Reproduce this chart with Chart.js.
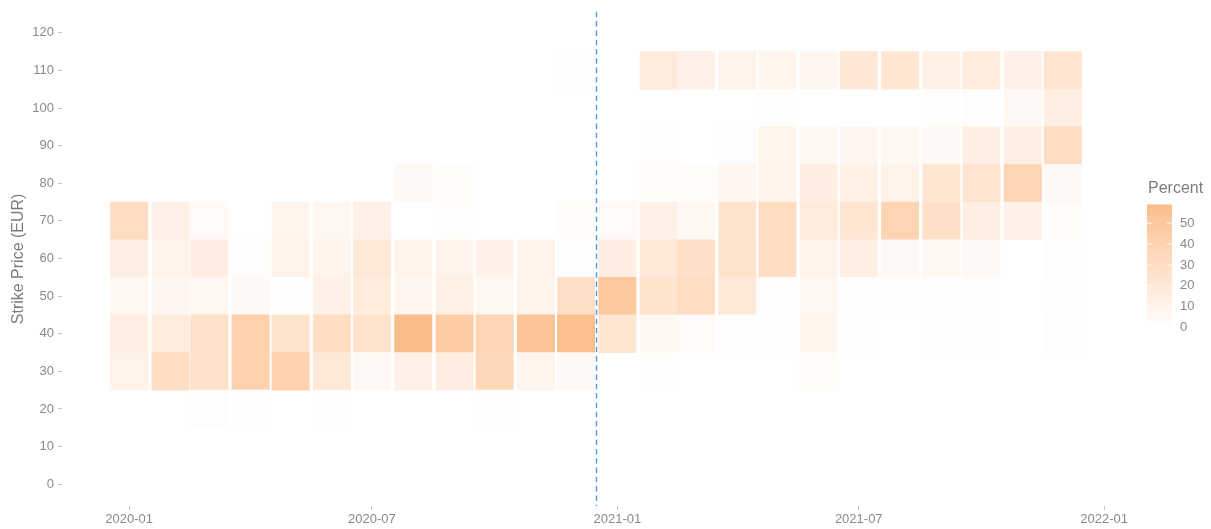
<!DOCTYPE html>
<html>
<head>
<meta charset="utf-8">
<script src="https://cdn.jsdelivr.net/npm/chart.js@4/dist/chart.umd.min.js"></script>
<style>
  html, body { margin: 0; padding: 0; background: #ffffff; }
  canvas { display: block; }
</style>
</head>
<body>
<canvas id="chart" width="1211" height="529"></canvas>
<script>
// Months on the x axis (each tile is centred on the first day of its month)
const months = [
  '2020-01','2020-02','2020-03','2020-04','2020-05','2020-06',
  '2020-07','2020-08','2020-09','2020-10','2020-11','2020-12',
  '2021-01','2021-02','2021-03','2021-04','2021-05','2021-06',
  '2021-07','2021-08','2021-09','2021-10','2021-11','2021-12'
];

// Strike price buckets (EUR), each tile covers strike ± 5
const strikes = [20, 30, 40, 50, 60, 70, 80, 90, 100, 110];

// Share of contracts (%) per month for each strike bucket; null = no contracts
const pct20  = [null,null,2,1,null,1,null,null,null,1,null,null, null,null,null,null,null,null,null,null,null,null,null,null];
const pct30  = [11,30,27,40,40,20,5,12,15,35,9,5, null,1,null,null,null,3,null,null,null,null,null,null];
const pct40  = [14,18,27,40,25,30,25,59,45,38,52,56, 22,6,4,1,1,9,1,null,1,1,null,2];
const pct50  = [7,8,7,5,1,12,17,8,13,7,11,28, 48,25,30,20,2,7,1,1,1,1,null,1];
const pct60  = [14,10,15,2,11,10,20,10,11,12,11,2, 15,20,28,25,30,11,14,5,6,5,null,2];
const pct70  = [30,12,4,null,9,7,12,null,1,null,null,3, 4,12,7,25,32,18,22,38,28,14,12,3];
const pct80  = [null,null,null,null,null,null,null,5,3,null,null,null, null,3,3,8,10,15,13,11,22,23,38,5];
const pct90  = [null,null,null,null,null,null,null,null,null,null,null,null, null,1,null,2,9,6,8,6,5,14,14,30];
const pct100 = [null,null,null,null,null,null,null,null,null,null,null,null, null,null,null,null,1,null,null,null,1,2,5,14];
const pct110 = [null,null,null,null,null,null,null,null,null,null,null,1, null,18,12,11,9,8,21,22,13,17,12,23];

const seriesByStrike = [pct20, pct30, pct40, pct50, pct60, pct70, pct80, pct90, pct100, pct110];

// Date of the vertical reference line
const markerDate = '2020-12-16';

// Axis tick labels
const xTickLabels = ['2020-01', '2020-07', '2021-01', '2021-07', '2022-01'];
const yTickValues = [0, 10, 20, 30, 40, 50, 60, 70, 80, 90, 100, 110, 120];
const legendTickValues = [0, 10, 20, 30, 40, 50];

// ---------------------------------------------------------------------------

const FONT = '"Liberation Sans", Arial, Helvetica, sans-serif';
const TEXT_GREY = '#8a8a8a';
const TITLE_GREY = '#7d7d7d';

const ORIGIN = Date.UTC(2020, 0, 1);
function dayOf(s) {
  const p = s.split('-').map(Number);
  return (Date.UTC(p[0], p[1] - 1, p[2] || 1) - ORIGIN) / 86400000;
}

// White -> orange fill, interpolated in CIE Lab
const LOW_RGB = [255, 255, 255];
const HIGH_RGB = [249, 189, 138];
function srgbToLin(c) { c /= 255; return c <= 0.04045 ? c / 12.92 : Math.pow((c + 0.055) / 1.055, 2.4); }
function linToSrgb(c) { c = c <= 0.0031308 ? 12.92 * c : 1.055 * Math.pow(c, 1 / 2.4) - 0.055; return Math.round(Math.max(0, Math.min(1, c)) * 255); }
const WP = [0.95047, 1, 1.08883];
function fLab(t) { return t > 216 / 24389 ? Math.cbrt(t) : (24389 / 27 * t + 16) / 116; }
function fInv(t) { const t3 = t * t * t; return t3 > 216 / 24389 ? t3 : (116 * t - 16) / (24389 / 27); }
function rgbToLab(rgb) {
  const [r, g, b] = rgb.map(srgbToLin);
  const x = (0.4124 * r + 0.3576 * g + 0.1805 * b) / WP[0];
  const y = (0.2126 * r + 0.7152 * g + 0.0722 * b) / WP[1];
  const z = (0.0193 * r + 0.1192 * g + 0.9505 * b) / WP[2];
  const fx = fLab(x), fy = fLab(y), fz = fLab(z);
  return [116 * fy - 16, 500 * (fx - fy), 200 * (fy - fz)];
}
function labToRgb(lab) {
  const fy = (lab[0] + 16) / 116, fx = fy + lab[1] / 500, fz = fy - lab[2] / 200;
  const x = fInv(fx) * WP[0], y = fInv(fy) * WP[1], z = fInv(fz) * WP[2];
  const r = 3.2406 * x - 1.5372 * y - 0.4986 * z;
  const g = -0.9689 * x + 1.8758 * y + 0.0415 * z;
  const b = 0.0557 * x - 0.2040 * y + 1.0570 * z;
  return [linToSrgb(r), linToSrgb(g), linToSrgb(b)];
}
const LOW_LAB = rgbToLab(LOW_RGB), HIGH_LAB = rgbToLab(HIGH_RGB);

const allValues = seriesByStrike.flat().filter(v => v != null);
const maxPct = Math.max(...allValues);

function colourFor(v) {
  const t = Math.max(0, Math.min(1, v / maxPct));
  const lab = LOW_LAB.map((l, i) => l + (HIGH_LAB[i] - l) * t);
  const c = labToRgb(lab);
  return `rgb(${c[0]},${c[1]},${c[2]})`;
}

// One floating-bar dataset per strike bucket; grouped:false keeps tiles in place
const datasets = strikes.map((s, si) => ({
  label: String(s),
  grouped: false,
  barPercentage: 1,
  categoryPercentage: 1,
  borderWidth: 0,
  borderSkipped: false,
  data: months
    .map((m, mi) => seriesByStrike[si][mi] == null ? null :
      { x: dayOf(m + '-01'), y: [s - 5, s + 5], v: seriesByStrike[si][mi] })
    .filter(d => d !== null),
  backgroundColor: ctx => ctx.raw ? colourFor(ctx.raw.v) : 'transparent'
}));

// Dashed vertical marker
const markerLine = {
  id: 'markerLine',
  afterDatasetsDraw(chart) {
    const { ctx, chartArea, scales } = chart;
    const x = Math.round(scales.x.getPixelForValue(dayOf(markerDate))) + 0.5;
    ctx.save();
    ctx.strokeStyle = '#4f9be0';
    ctx.lineWidth = 1.4;
    ctx.setLineDash([5.5, 3.8]);
    ctx.beginPath();
    ctx.moveTo(x, chartArea.top);
    ctx.lineTo(x, chartArea.bottom);
    ctx.stroke();
    ctx.restore();
  }
};

// Continuous colour bar legend
const colourBar = {
  id: 'colourBar',
  afterDraw(chart) {
    const { ctx } = chart;
    const left = 1147, width = 25, bottom = 327.7, pxPerUnit = 2.09;
    const height = maxPct * pxPerUnit;
    const top = bottom - height;
    ctx.save();
    ctx.fillStyle = TITLE_GREY;
    ctx.font = `16px ${FONT}`;
    ctx.textAlign = 'left';
    ctx.textBaseline = 'middle';
    ctx.fillText('Percent', 1148, 189);
    const steps = Math.ceil(height);
    for (let i = 0; i < steps; i++) {
      const v = maxPct * (1 - (i + 0.5) / steps);
      ctx.fillStyle = colourFor(v);
      ctx.fillRect(left, top + i * height / steps, width, height / steps + 0.6);
    }
    ctx.font = `13px ${FONT}`;
    legendTickValues.forEach(v => {
      const y = bottom - v * pxPerUnit;
      ctx.strokeStyle = 'rgba(255,255,255,0.85)';
      ctx.lineWidth = 1;
      ctx.beginPath();
      ctx.moveTo(left, y); ctx.lineTo(left + 5, y);
      ctx.moveTo(left + width - 5, y); ctx.lineTo(left + width, y);
      ctx.stroke();
      ctx.fillStyle = TEXT_GREY;
      ctx.fillText(String(v), 1180, y);
    });
    ctx.restore();
  }
};

const tickGrid = {
  display: true,
  offset: false,
  drawOnChartArea: false,
  drawTicks: true,
  tickLength: 4,
  tickWidth: 1,
  tickColor: '#c4c4c4'
};

new Chart(document.getElementById('chart'), {
  type: 'bar',
  data: { datasets },
  options: {
    responsive: false,
    animation: false,
    devicePixelRatio: 1,
    layout: { padding: { top: 10, right: 81, left: 0, bottom: 0 } },
    plugins: { legend: { display: false }, tooltip: { enabled: false } },
    scales: {
      x: {
        type: 'linear',
        min: -50.4,
        max: 750.4,
        offset: false,
        afterBuildTicks: s => { s.ticks = xTickLabels.map(l => ({ value: dayOf(l + '-01') })); },
        afterFit: s => { s.height = 23; },
        ticks: {
          autoSkip: false, maxRotation: 0, padding: 2,
          color: TEXT_GREY, font: { family: FONT, size: 13 },
          callback: (v, i) => xTickLabels[i]
        },
        grid: tickGrid,
        border: { display: false }
      },
      y: {
        type: 'linear',
        min: -5.8,
        max: 125.6,
        afterBuildTicks: s => { s.ticks = yTickValues.map(v => ({ value: v })); },
        afterFit: s => { s.width = 62; },
        ticks: {
          padding: 4,
          color: TEXT_GREY, font: { family: FONT, size: 13 },
          callback: v => String(v)
        },
        grid: tickGrid,
        border: { display: false },
        title: {
          display: true,
          text: 'Strike Price (EUR)',
          color: TITLE_GREY,
          font: { family: FONT, size: 16 },
          padding: { top: 9, bottom: 0 }
        }
      }
    }
  },
  plugins: [markerLine, colourBar]
});
</script>
</body>
</html>
